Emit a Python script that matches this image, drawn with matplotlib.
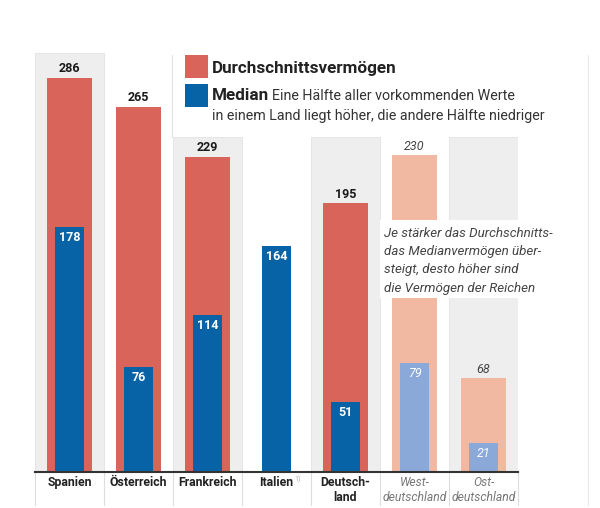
import matplotlib
matplotlib.use("Agg")
import matplotlib.pyplot as plt
from matplotlib.patches import Rectangle
import matplotlib.transforms as mtransforms

plt.rcParams['font.family'] = ['Roboto', 'DejaVu Sans']

categories = ['Spanien', 'Österreich', 'Frankreich', 'Italien', 'Deutsch-\nland',
              'West-\ndeutschland', 'Ost-\ndeutschland']
mean_vals = [286, 265, 229, None, 195, 230, 68]
median_vals = [178, 76, 114, 164, 51, 79, 21]
light = [False, False, False, False, False, True, True]
shaded = [304, None, 243, None, 243, None, 243]

RED = '#d8645a'
BLUE = '#0862a6'
LRED = '#f1b9a2'
LBLUE = '#8aa9d9'
GREY_BG = '#eeeeee'

W, H = 600, 508
fig = plt.figure(figsize=(6, 5.08), dpi=100)
fig.patch.set_facecolor('white')

def px(x, y):
    return x / W, 1 - y / H

# axes: x pixels 35..518, baseline y=472, top y=40
ax = fig.add_axes([35 / W, 1 - 472 / H, 483 / W, (472 - 40) / H])
ax.set_xlim(-0.5, 6.5)
ax.set_ylim(0, (472 - 40) / 1.377)
ax.axis('off')
ax.patch.set_alpha(0)

# shaded columns
for i, top in enumerate(shaded):
    if top is not None:
        ax.add_patch(Rectangle((i - 0.5, 0), 1.0, top, facecolor=GREY_BG,
                               edgecolor='#e2e2e2', lw=0.6, zorder=0))

# bars
for i in range(len(categories)):
    m = mean_vals[i]
    if m is not None:
        ax.bar(i, m, width=0.65, color=LRED if light[i] else RED, zorder=2)
    ax.bar(i, median_vals[i], width=0.43, color=LBLUE if light[i] else BLUE, zorder=3)

# value labels
for i in range(len(categories)):
    m = mean_vals[i]
    if m is not None:
        if light[i]:
            ax.text(i, m + 2, str(m), ha='center', va='bottom', fontsize=9,
                    style='italic', color='#444444', zorder=5)
        else:
            ax.text(i, m + 2, str(m), ha='center', va='bottom', fontsize=9,
                    fontweight='bold', color='#1a1a1a', zorder=5)
    v = median_vals[i]
    if light[i]:
        ax.text(i, v - 7.5, str(v), ha='center', va='center', fontsize=9,
                style='italic', color='white', zorder=5)
    else:
        ax.text(i, v - 7.5, str(v), ha='center', va='center', fontsize=9,
                fontweight='bold', color='white', zorder=5)

# baseline
ax.plot([-0.5, 6.5], [0, 0], color='#333333', lw=1.5, zorder=6, clip_on=False)

# separators below baseline
trans = mtransforms.blended_transform_factory(ax.transData, fig.transFigure)
for b in range(8):
    ax.plot([b - 0.5, b - 0.5], [1 - 472 / H, 1 - 505 / H], color='#dddddd', lw=0.8,
            transform=trans, clip_on=False, zorder=1)

# category labels
for i, c in enumerate(categories):
    if light[i]:
        ax.text(i, 1 - 476 / H, c, ha='center', va='top', fontsize=8.7,
                style='italic', color='#777777', transform=trans, linespacing=1.2)
    else:
        ax.text(i, 1 - 476 / H, c, ha='center', va='top', fontsize=8.8,
                fontweight='bold', color='#222222', transform=trans, linespacing=1.2)
# superscript for Italien
ax.text(3.255, 1 - 476 / H, '1)', ha='left', va='top', fontsize=5,
        color='#aaaaaa', transform=trans)

# vertical panel lines
fig.add_artist(plt.Line2D([172 / W, 172 / W], [1 - 55 / H, 1 - 137 / H], color='#e2e2e2', lw=0.8))
fig.add_artist(plt.Line2D([588 / W, 588 / W], [1 - 55 / H, 1 - 505 / H], color='#e8e8e8', lw=0.8))

# legend
fig.add_artist(Rectangle(px(185, 78), 23 / W, 23 / H, facecolor=RED, edgecolor='none'))
fig.add_artist(Rectangle(px(185, 107), 23 / W, 23 / H, facecolor=BLUE, edgecolor='none'))
fig.text(*px(212, 68), 'Durchschnittsvermögen', fontsize=12.3, fontweight='bold',
         color='#222222', va='center', ha='left')
fig.text(*px(212, 95), 'Median', fontsize=12.3, fontweight='bold',
         color='#222222', va='center', ha='left')
fig.text(*px(272, 96), 'Eine Hälfte aller vorkommenden Werte', fontsize=10.3,
         color='#333333', va='center', ha='left')
fig.text(*px(212, 116), 'in einem Land liegt höher, die andere Hälfte niedriger', fontsize=10.3,
         color='#333333', va='center', ha='left')

# annotation with white background
fig.add_artist(Rectangle(px(380, 298), 180 / W, 78 / H, facecolor='white',
                         edgecolor='none', zorder=10))
notes = ['Je stärker das Durchschnitts-', 'das Medianvermögen über-',
         'steigt, desto höher sind', 'die Vermögen der Reichen']
for k, line in enumerate(notes):
    fig.text(*px(384, 233 + k * 18.5), line, fontsize=9.6, style='italic',
             color='#444444', va='center', ha='left', zorder=11)

fig.savefig('out.png', dpi=100, facecolor=fig.get_facecolor())
